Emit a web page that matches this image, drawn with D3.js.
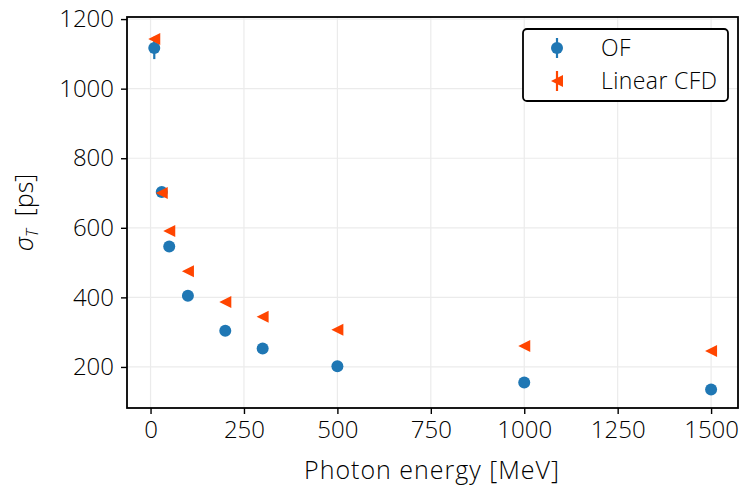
<!DOCTYPE html>
<html>
<head>
<meta charset="utf-8">
<script src="https://cdn.jsdelivr.net/npm/d3@7"></script>
<style>
  html, body { margin: 0; padding: 0; background: #fff; }
  svg text { font-family: 'Open Sans', Lato, sans-serif; font-weight: 300; fill: #000; }
</style>
</head>
<body>
<div id="chart"></div>
<script>
// ── data ────────────────────────────────────────────────────────────────
const energies = [10, 30, 50, 100, 200, 300, 500, 1000, 1500];
const ofSigma = [1117, 703, 546, 405, 304, 253, 202, 155, 135];
const ofErr = [32, 6, 5, 4, 3, 3, 2, 2, 2];
const cfdSigma = [1143, 700, 591, 475, 387, 344, 307, 260, 246];
const cfdErr = [5, 4, 3, 3, 2, 2, 2, 2, 2];
const xTicks = [0, 250, 500, 750, 1000, 1250, 1500];
const yTicks = [200, 400, 600, 800, 1000, 1200];

const W = 743, H = 488;
const M = { left: 127, right: 5, top: 17, bottom: 80 };
const plotW = W - M.left - M.right;
const plotH = H - M.top - M.bottom;

const BLUE = '#1f77b4';
const RED = '#ff4500';

const x = d3.scaleLinear().domain([-63, 1572]).range([0, plotW]);
const y = d3.scaleLinear().domain([82, 1206]).range([plotH, 0]);

const svg = d3.select('#chart').append('svg').attr('width', W).attr('height', H);
const g = svg.append('g').attr('transform', `translate(${M.left},${M.top})`);

// ── grid ────────────────────────────────────────────────────────────────
xTicks.forEach((t) => {
  g.append('line')
    .attr('x1', x(t)).attr('x2', x(t))
    .attr('y1', 0).attr('y2', plotH)
    .attr('stroke', '#ebebeb').attr('stroke-width', 1.2);
});
yTicks.forEach((t) => {
  g.append('line')
    .attr('x1', 0).attr('x2', plotW)
    .attr('y1', y(t)).attr('y2', y(t))
    .attr('stroke', '#ebebeb').attr('stroke-width', 1.2);
});

// ── axes ────────────────────────────────────────────────────────────────
const xAxis = g.append('g')
  .attr('transform', `translate(0,${plotH})`)
  .call(d3.axisBottom(x).tickValues(xTicks).tickSize(6).tickPadding(7).tickFormat(d3.format('d')));
const yAxis = g.append('g')
  .call(d3.axisLeft(y).tickValues(yTicks).tickSize(6).tickPadding(7).tickFormat(d3.format('d')));

[xAxis, yAxis].forEach((a) => {
  a.select('.domain').remove();
  a.selectAll('.tick line').attr('stroke', '#000').attr('stroke-width', 1.4);
  a.selectAll('.tick text').attr('font-size', '24px').attr('fill', '#000')
    .style('font-family', "'Open Sans', sans-serif").style('font-weight', 300);
});

// ── error bars + markers ────────────────────────────────────────────────
function errBars(vals, errs, color) {
  energies.forEach((e, i) => {
    g.append('line')
      .attr('x1', x(e)).attr('x2', x(e))
      .attr('y1', y(vals[i] - errs[i])).attr('y2', y(vals[i] + errs[i]))
      .attr('stroke', color).attr('stroke-width', 2.2);
  });
}
errBars(ofSigma, ofErr, BLUE);
errBars(cfdSigma, cfdErr, RED);

const R = 6;
function triLeft(cx, cy, r) {
  return `M${cx - r},${cy} L${cx + r},${cy - r} L${cx + r},${cy + r} Z`;
}

g.selectAll('circle.of')
  .data(energies)
  .join('circle')
  .attr('class', 'of')
  .attr('cx', (d) => x(d))
  .attr('cy', (d, i) => y(ofSigma[i]))
  .attr('r', R)
  .attr('fill', BLUE);

g.selectAll('path.cfd')
  .data(energies)
  .join('path')
  .attr('class', 'cfd')
  .attr('d', (d, i) => triLeft(x(d), y(cfdSigma[i]), R))
  .attr('fill', RED);

// ── frame ───────────────────────────────────────────────────────────────
g.append('rect')
  .attr('x', 0).attr('y', 0).attr('width', plotW).attr('height', plotH)
  .attr('fill', 'none').attr('stroke', '#000').attr('stroke-width', 1.8);

// ── axis labels ─────────────────────────────────────────────────────────
svg.append('text')
  .attr('x', 432)
  .attr('y', 479)
  .attr('text-anchor', 'middle')
  .attr('font-size', '25px')
  .attr('letter-spacing', '1px')
  .text('Photon energy [MeV]');

const yl = svg.append('text')
  .attr('transform', `translate(33,${M.top + plotH / 2}) rotate(-90)`)
  .attr('text-anchor', 'middle')
  .attr('font-size', '25px');
yl.append('tspan').attr('font-style', 'italic').text('σ');
yl.append('tspan').attr('font-style', 'italic').attr('font-size', '16px').attr('dy', 5).text('T');
yl.append('tspan').attr('dy', -5).text('\u00a0\u00a0[ps]');

// ── legend ──────────────────────────────────────────────────────────────
const lg = svg.append('g').attr('transform', 'translate(523,29)');
lg.append('rect')
  .attr('width', 205).attr('height', 72).attr('rx', 4)
  .attr('fill', '#fff').attr('stroke', '#000').attr('stroke-width', 1.8);

const legendItems = [
  { name: 'OF', color: BLUE, kind: 'circle' },
  { name: 'Linear CFD', color: RED, kind: 'tri' },
];
legendItems.forEach((d, i) => {
  const cy = 19 + i * 33;
  const row = lg.append('g');
  row.append('line')
    .attr('x1', 34).attr('x2', 34).attr('y1', cy - 10).attr('y2', cy + 10)
    .attr('stroke', d.color).attr('stroke-width', 2.2);
  if (d.kind === 'circle') {
    row.append('circle').attr('cx', 34).attr('cy', cy).attr('r', R).attr('fill', d.color);
  } else {
    row.append('path').attr('d', triLeft(34, cy, R)).attr('fill', d.color);
  }
  row.append('text')
    .attr('x', 78).attr('y', cy + 8)
    .attr('font-size', '23px')
    .attr('letter-spacing', '0.4px')
    .text(d.name);
});
</script>
</body>
</html>
